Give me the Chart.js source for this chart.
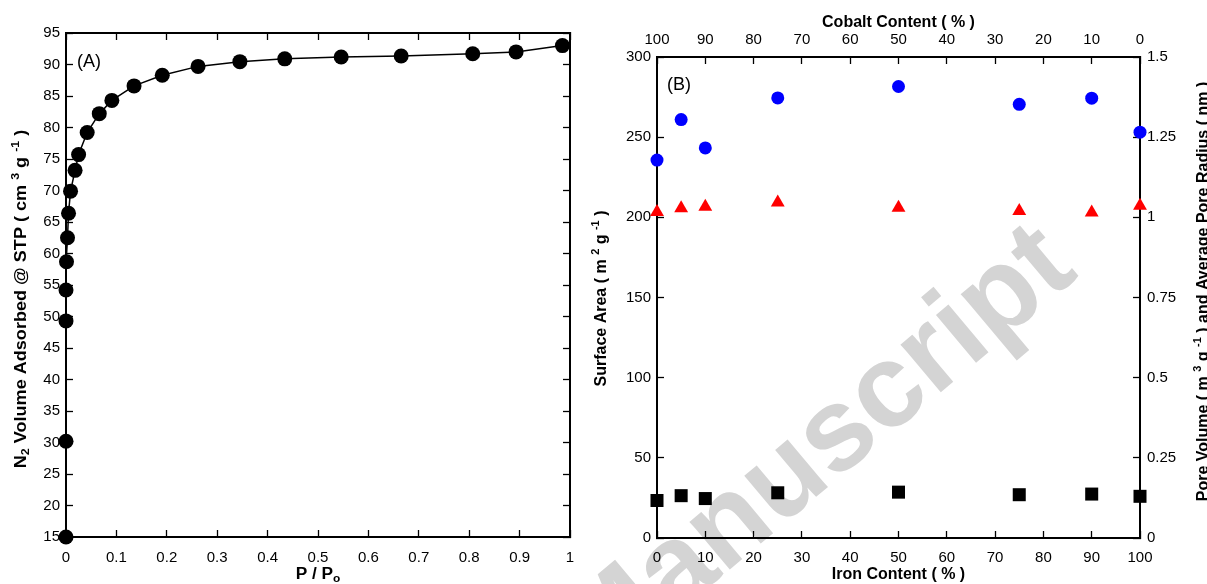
<!DOCTYPE html>
<html lang="en">
<head>
<meta charset="UTF-8" />
<title>N2 isotherm and textural properties</title>
<script src="https://cdn.jsdelivr.net/npm/chart.js@4.4.1"></script>
<style>
  body { margin: 0; background: #fff; }
  #wrap { position: relative; width: 1207px; height: 584px; }
  canvas { position: absolute; top: 0; }
  #chartA { left: 0; }
  #chartB { left: 590px; }
</style>
</head>
<body>
<div id="wrap">
  <canvas id="chartA" width="590" height="584"></canvas>
  <canvas id="chartB" width="617" height="584"></canvas>
</div>
<script>
// (A) nitrogen isotherm
var pressure = [0, 0, 0, 0, 0.001, 0.003, 0.005, 0.009, 0.018, 0.025, 0.042, 0.066, 0.091, 0.135, 0.191, 0.262, 0.345, 0.434, 0.546, 0.665, 0.807, 0.893, 0.985];
var volume   = [15.0, 30.2, 49.3, 54.2, 58.7, 62.5, 66.4, 69.9, 73.2, 75.7, 79.2, 82.2, 84.3, 86.6, 88.3, 89.7, 90.45, 90.9, 91.2, 91.35, 91.7, 92.0, 93.0];

// (B) textural properties vs composition
var ironContent = [0, 5, 10, 25, 50, 75, 90, 100];
var surfaceArea = [235.7, 261, 243.3, 274.5, 281.6, 270.5, 274.3, 253.1];
var poreRadius  = [1.017, 1.028, 1.033, 1.046, 1.030, 1.020, 1.015, 1.036];
var poreVolume  = [0.117, 0.132, 0.123, 0.141, 0.143, 0.135, 0.137, 0.130];

var FONT = "'Liberation Sans', Arial, sans-serif";
Chart.defaults.font.family = FONT;
Chart.defaults.color = '#000';

function fmt(v){ return String(Math.round(v * 100) / 100); }

function pts(xs, ys){
  var out = [];
  for (var i = 0; i < xs.length; i++) out.push({ x: xs[i], y: ys[i] });
  return out;
}

// one axis with inward tick marks and a thick frame line
function axis(pos, min, max, step, size, labelPad, title, titlePad, reverse){
  var horiz = (pos === 'top' || pos === 'bottom');
  return {
    type: 'linear', position: pos, min: min, max: max, reverse: !!reverse,
    ticks: {
      display: labelPad != null, stepSize: step, padding: labelPad || 0,
      autoSkip: false, maxRotation: 0, maxTicksLimit: 40,
      font: { size: 15 }, color: '#000', callback: fmt
    },
    grid: { drawOnChartArea: false, drawTicks: true, tickLength: -7, tickWidth: 1.3, tickColor: '#000', color: '#000' },
    border: { display: true, color: '#000', width: 2 },
    title: title ? { display: true, text: title, font: { size: 16, weight: 'bold' }, color: '#000', padding: titlePad } : { display: false },
    afterFit: function(s){
      if (horiz) s.height = size; else s.width = size;
      s.paddingLeft = s.paddingRight = s.paddingTop = s.paddingBottom = 0;
    }
  };
}

// text like "cm ^{3} g ^{-1}" with raised / lowered small parts
function richParts(str){
  var parts = [], re = /(\^|_)\{([^}]*)\}/g, last = 0, m;
  while ((m = re.exec(str))) {
    if (m.index > last) parts.push({ t: str.slice(last, m.index), k: 0 });
    parts.push({ t: m[2], k: m[1] === '^' ? 1 : -1 });
    last = re.lastIndex;
  }
  if (last < str.length) parts.push({ t: str.slice(last), k: 0 });
  return parts;
}

function drawRich(c, str, x, y, rot, size, stretch){
  var parts = richParts(str), small = Math.round(size * 0.68), w = 0, i;
  var big = 'bold ' + size + 'px ' + FONT, sm = 'bold ' + small + 'px ' + FONT;
  for (i = 0; i < parts.length; i++) {
    c.font = parts[i].k ? sm : big;
    parts[i].w = c.measureText(parts[i].t).width;
    w += parts[i].w;
  }
  c.save();
  c.translate(x, y);
  c.rotate(rot);
  c.scale(stretch || 1, 1);
  c.fillStyle = '#000';
  c.textBaseline = 'alphabetic';
  var cx = -w / 2, base = size * 0.36;
  for (i = 0; i < parts.length; i++) {
    c.font = parts[i].k ? sm : big;
    var dy = parts[i].k === 1 ? -size * 0.42 : (parts[i].k === -1 ? size * 0.22 : 0);
    c.fillText(parts[i].t, cx, base + dy);
    cx += parts[i].w;
  }
  c.restore();
}

var richTitles = {
  id: 'richTitles',
  afterDraw: function(chart, args, opts){
    var c = chart.ctx, a = chart.chartArea;
    (opts.items || []).forEach(function(it){
      var p = it.at(a);
      drawRich(c, it.text, p[0], p[1], it.rot || 0, 16, it.stretch);
    });
    c.save();
    c.font = '18px ' + FONT;
    c.fillStyle = '#000';
    c.fillText(opts.panel, a.left + opts.dx, a.top + opts.dy);
    c.restore();
  }
};

var base = {
  responsive: false, animation: false,
  layout: { padding: 0 },
  plugins: { legend: { display: false }, tooltip: { enabled: false } }
};

new Chart(document.getElementById('chartA'), {
  type: 'scatter',
  data: { datasets: [{
    data: pts(pressure, volume),
    showLine: true, tension: 0, borderColor: '#000', borderWidth: 1.5,
    pointRadius: 7.5, pointBackgroundColor: '#000', pointBorderWidth: 0, clip: false
  }]},
  options: Object.assign({}, base, {
    scales: {
      x:  axis('bottom', 0, 1, 0.1, 47, 19),
      x2: axis('top', 0, 1, 0.1, 33, null),
      y:  axis('left', 15, 95, 5, 66, 13),
      y2: axis('right', 15, 95, 5, 20, null)
    },
    plugins: Object.assign({}, base.plugins, { richTitles: {
      panel: '(A)', dx: 11, dy: 34,
      items: [
        { text: 'P / P_{o}', stretch: 1.08, at: function(a){ return [(a.left + a.right) / 2, 573]; } },
        { text: 'N_{2} Volume Adsorbed @ STP ( cm ^{3} g ^{-1} )', rot: -Math.PI / 2, stretch: 1.13,
          at: function(a){ return [20, (a.top + a.bottom) / 2 + 14]; } }
      ]
    }})
  }),
  plugins: [richTitles]
});

var watermark = {
  id: 'watermark',
  beforeDraw: function(chart){
    var c = chart.ctx;
    c.save();
    c.translate(8, 680);
    c.rotate(-40 * Math.PI / 180);
    c.font = 'bold 118px ' + FONT;
    c.fillStyle = '#d4d4d4';
    c.fillText('Manuscript', 0, 0);
    c.restore();
  }
};

new Chart(document.getElementById('chartB'), {
  type: 'scatter',
  data: { datasets: [
    { data: pts(ironContent, surfaceArea), yAxisID: 'y', pointStyle: 'circle', pointRadius: 6.5,
      pointBackgroundColor: '#0000ff', pointBorderWidth: 0, clip: false },
    { data: pts(ironContent, poreRadius), yAxisID: 'y2', pointStyle: 'triangle', pointRadius: 8,
      pointBackgroundColor: '#ff0000', pointBorderWidth: 0, clip: false },
    { data: pts(ironContent, poreVolume), yAxisID: 'y2', pointStyle: 'rect', pointRadius: 9.2,
      pointBackgroundColor: '#000', pointBorderWidth: 0, clip: false }
  ]},
  options: Object.assign({}, base, {
    scales: {
      x:  axis('bottom', 0, 100, 10, 46, 18, 'Iron Content ( % )', { top: 0, bottom: 0 }),
      x2: axis('top', 0, 100, 10, 57, 15, 'Cobalt Content ( % )', { top: 13, bottom: 0 }, true),
      y:  axis('left', 0, 300, 50, 67, 13),
      y2: axis('right', 0, 1.5, 0.25, 67, 14)
    },
    plugins: Object.assign({}, base.plugins, { richTitles: {
      panel: '(B)', dx: 10, dy: 33,
      items: [
        { text: 'Surface Area ( m ^{2} g ^{-1} )', rot: -Math.PI / 2,
          at: function(a){ return [10, (a.top + a.bottom) / 2 + 1]; } },
        { text: 'Pore Volume ( m ^{3} g ^{-1} ) and Average Pore Radius ( nm )', rot: -Math.PI / 2,
          at: function(a){ return [612, (a.top + a.bottom) / 2 - 6]; } }
      ]
    }})
  }),
  plugins: [watermark, richTitles]
});
</script>
</body>
</html>
